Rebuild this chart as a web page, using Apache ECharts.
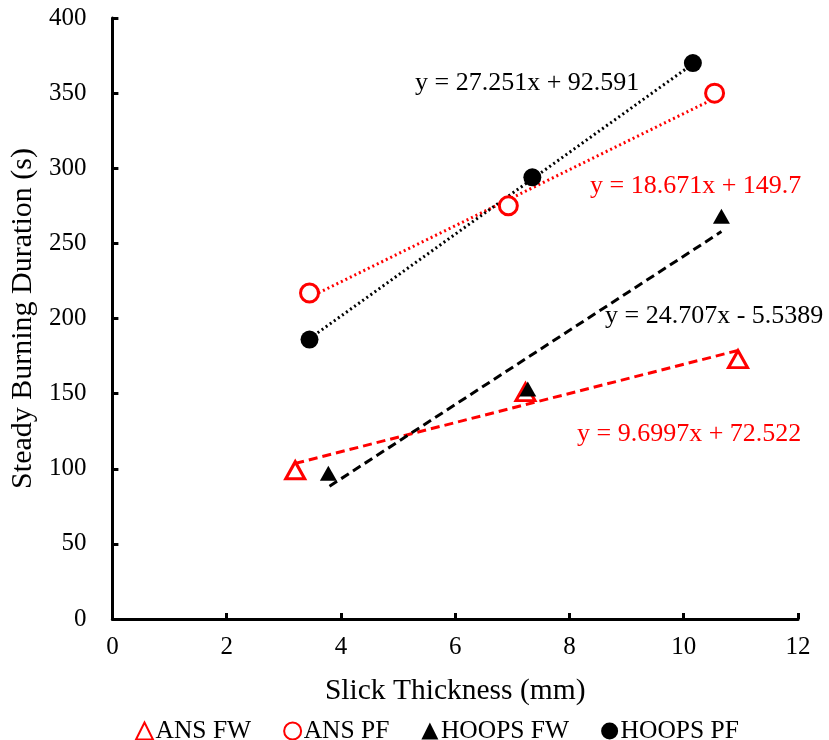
<!DOCTYPE html>
<html>
<head>
<meta charset="utf-8">
<script src="https://cdn.jsdelivr.net/npm/echarts@6/dist/echarts.min.js"></script>
<style>
html,body{margin:0;padding:0;background:#fff;}
#c{width:829px;height:740px;}
</style>
</head>
<body>
<div id="c"></div>
<script>
// Data
const seriesNames = ['ANS FW', 'ANS PF', 'HOOPS FW', 'HOOPS PF'];
const ansFW   = [[3.2, 99], [7.23, 151], [10.95, 173]];
const ansPF   = [[3.45, 217], [6.93, 275], [10.54, 350]];
const hoopsFW = [[3.78, 97], [7.27, 153], [10.66, 268]];
const hoopsPF = [[3.45, 186], [7.35, 294], [10.16, 370]];

// Trendline equations (slope, intercept) and x-ranges shown in the picture
const trendANSFW   = {slope: 9.6997, intercept: 72.522, x0: 3.2,  x1: 10.95, label: 'y = 9.6997x + 72.522'};
const trendANSPF   = {slope: 18.671, intercept: 149.7,  x0: 3.45, x1: 10.54, label: 'y = 18.671x + 149.7'};
const trendHOOPSFW = {slope: 24.707, intercept: -5.5389, x0: 3.8, x1: 10.66, label: 'y = 24.707x - 5.5389'};
const trendHOOPSPF = {slope: 27.251, intercept: 92.591, x0: 3.45, x1: 10.16, label: 'y = 27.251x + 92.591'};

const xTicks = {min: 0, max: 12, interval: 2};
const yTicks = {min: 0, max: 400, interval: 50};

function trendPts(t) {
  return [[t.x0, t.slope * t.x0 + t.intercept], [t.x1, t.slope * t.x1 + t.intercept]];
}

const FONT = '"Liberation Serif", "Times New Roman", serif';
const RED = '#ff0000';
const BLACK = '#000000';

const chart = echarts.init(document.getElementById('c'), null, {renderer: 'canvas'});

function trendSeries(t, color, type) {
  return {
    type: 'line', data: trendPts(t), symbol: 'none', silent: true,
    lineStyle: {color: color, width: 3, type: type, opacity: 1},
    z: 1, legendHoverLink: false
  };
}

const triPath = 'path://M50,0 L100,100 L0,100 Z';

chart.setOption({
  animation: false,
  backgroundColor: '#fff',
  grid: {left: 110, right: 31, top: 18, bottom: 121, containLabel: false},
  xAxis: {
    type: 'value', min: xTicks.min, max: xTicks.max, interval: xTicks.interval,
    name: 'Slick Thickness (mm)', nameLocation: 'middle', nameGap: 57,
    nameTextStyle: {fontFamily: FONT, fontSize: 29.5, color: '#000'},
    axisLine: {show: true, onZero: false, lineStyle: {color: '#000', width: 3}},
    axisTick: {show: true, inside: true, length: 6, lineStyle: {color: '#000', width: 3}},
    axisLabel: {fontFamily: FONT, fontSize: 25, color: '#000', margin: 16},
    splitLine: {show: false}
  },
  yAxis: {
    type: 'value', min: yTicks.min, max: yTicks.max, interval: yTicks.interval,
    name: 'Steady Burning Duration (s)', nameLocation: 'middle', nameGap: 70,
    nameTextStyle: {fontFamily: FONT, fontSize: 30, color: '#000'},
    axisLine: {show: true, lineStyle: {color: '#000', width: 3}},
    axisTick: {show: true, inside: true, length: 6, lineStyle: {color: '#000', width: 3}},
    axisLabel: {fontFamily: FONT, fontSize: 25, color: '#000', margin: 26},
    splitLine: {show: false}
  },
  legend: {
    data: [
      {name: seriesNames[0], icon: triPath},
      {name: seriesNames[1], icon: 'circle'},
      {name: seriesNames[2], icon: triPath},
      {name: seriesNames[3], icon: 'circle'}
    ],
    top: 713, left: 130, itemGap: 32, itemWidth: 18, itemHeight: 17,
    textStyle: {fontFamily: FONT, fontSize: 25.5, color: '#000', padding: [0, 0, 0, -3]},
    selectedMode: false
  },
  series: [
    trendSeries(trendANSFW, RED, [9, 5]),
    trendSeries(trendHOOPSFW, BLACK, [9, 5]),
    trendSeries(trendANSPF, RED, [2, 3]),
    trendSeries(trendHOOPSPF, BLACK, [2, 3]),
    {
      name: seriesNames[0], type: 'scatter', data: ansFW, symbol: triPath, symbolSize: [19, 17],
      itemStyle: {color: '#fff', borderColor: RED, borderWidth: 3, opacity: 1}, z: 3
    },
    {
      name: seriesNames[1], type: 'scatter', data: ansPF, symbol: 'circle', symbolSize: 18,
      itemStyle: {color: '#fff', borderColor: RED, borderWidth: 3, opacity: 1}, z: 3
    },
    {
      name: seriesNames[2], type: 'scatter', data: hoopsFW, symbol: triPath, symbolSize: [17, 15],
      itemStyle: {color: BLACK, opacity: 1}, z: 4
    },
    {
      name: seriesNames[3], type: 'scatter', data: hoopsPF, symbol: 'circle', symbolSize: 18,
      itemStyle: {color: BLACK, opacity: 1}, z: 4
    }
  ],
  graphic: [
    {type: 'text', left: 415, top: 70, style: {text: trendHOOPSPF.label, font: '26px ' + FONT, fill: BLACK}},
    {type: 'text', left: 590, top: 173, style: {text: trendANSPF.label, font: '26px ' + FONT, fill: RED}},
    {type: 'text', left: 605, top: 303, style: {text: trendHOOPSFW.label, font: '26px ' + FONT, fill: BLACK}},
    {type: 'text', left: 577, top: 421, style: {text: trendANSFW.label, font: '26px ' + FONT, fill: RED}}
  ]
});
</script>
</body>
</html>
